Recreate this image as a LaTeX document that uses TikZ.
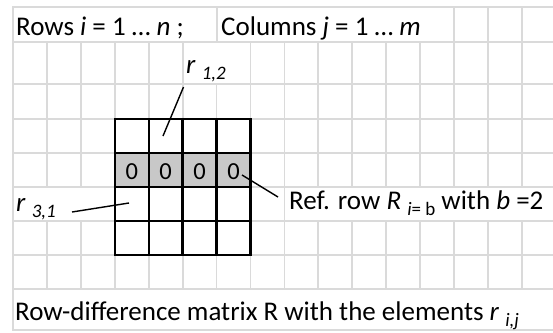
\documentclass[tikz,border=0pt]{standalone}
\usepackage{fontspec}
\setmainfont{Carlito}
\definecolor{gridc}{HTML}{DADADA}
\definecolor{cellg}{HTML}{C8C8C8}
\newcommand\mysub[1]{\raisebox{-6.5pt}{\fontsize{19}{19}\selectfont #1}}
\begin{document}
\begin{tikzpicture}[x=1pt,y=-1pt,
  gridline/.style={draw=gridc, line width=1.8pt},
  box/.style={fill=white, draw=gridc, line width=1.8pt},
  cell/.style={rectangle, draw=black, line width=2.3pt, minimum width=33.9pt, minimum height=34pt, inner sep=0pt},
  zero/.style={anchor=base, inner sep=0pt, font=\fontsize{24.5}{24.5}\selectfont},
  lbl/.style={anchor=base west, inner sep=0pt, font=\fontsize{27}{29}\selectfont},
  conn/.style={draw=black, line width=1.4pt}]
\useasboundingbox (0,0) rectangle (553,332);
\clip (0,0) rectangle (553,332);
\fill[white] (0,0) rectangle (553,332);
% background grid
\foreach \k in {0,...,16} \draw[gridline] ({13+\k*33.93},7) -- ({13+\k*33.93},330);
\foreach \y in {7,42,84,119,153,187,221,255,289,330} \draw[gridline] (13,\y) -- (560,\y);
% text boxes
\draw[box] (13,7) rectangle (217,42);
\draw[box] (217,7) rectangle (454,42);
\draw[box] (183,42) rectangle (250.5,84);
\draw[box] (13,187) rectangle (115,221);
\draw[box] (284.4,187) rectangle (560,221);
\draw[box] (13,289) rectangle (560,330);
% matrix cells
\foreach \i in {1,...,4}{
  \foreach \j in {1,...,4}{
    \node[cell] (c\i\j) at ({114.8+16.95+(\j-1)*33.93},{119+17+(\i-1)*34}) {};
  }
}
\foreach \j in {1,...,4}{
  \node[cell, fill=cellg] (g\j) at ({114.8+16.95+(\j-1)*33.93},170) {};
  \node[zero] (z\j) at ({114.8+16.95+(\j-1)*33.93},179.5) {0};
}
% labels
\node[lbl] (rows) at (16,35) {Rows \textit{i} = 1 … \textit{n} ;};
\node[lbl] (cols) at (221,35) {Columns \textit{j} = 1 … \textit{m}};
\node[lbl] (r12) at (186,73) {\textit{r} \mysub{\textit{1,2}}};
\node[lbl] (r31) at (16,211) {\textit{r} \mysub{\textit{3,1}}};
\node[lbl] (ref) at (289,209) {Ref. row \textit{R} \mysub{\textit{i}= b} with \textit{b} =2};
\node[lbl] (bottom) at (15,320) {Row-difference matrix R with the elements \textit{r} \mysub{\textit{i,j}}};
% connectors
\coordinate (r12a) at (183.5,87);
\coordinate (r12b) at (163,136);
\coordinate (r31a) at (72,212);
\coordinate (r31b) at (129,203);
\coordinate (refa) at (242,175);
\coordinate (refb) at (278,197);
\draw[conn] (r12a) -- (r12b);
\draw[conn] (r31a) -- (r31b);
\draw[conn] (refa) -- (refb);
\end{tikzpicture}
\end{document}
